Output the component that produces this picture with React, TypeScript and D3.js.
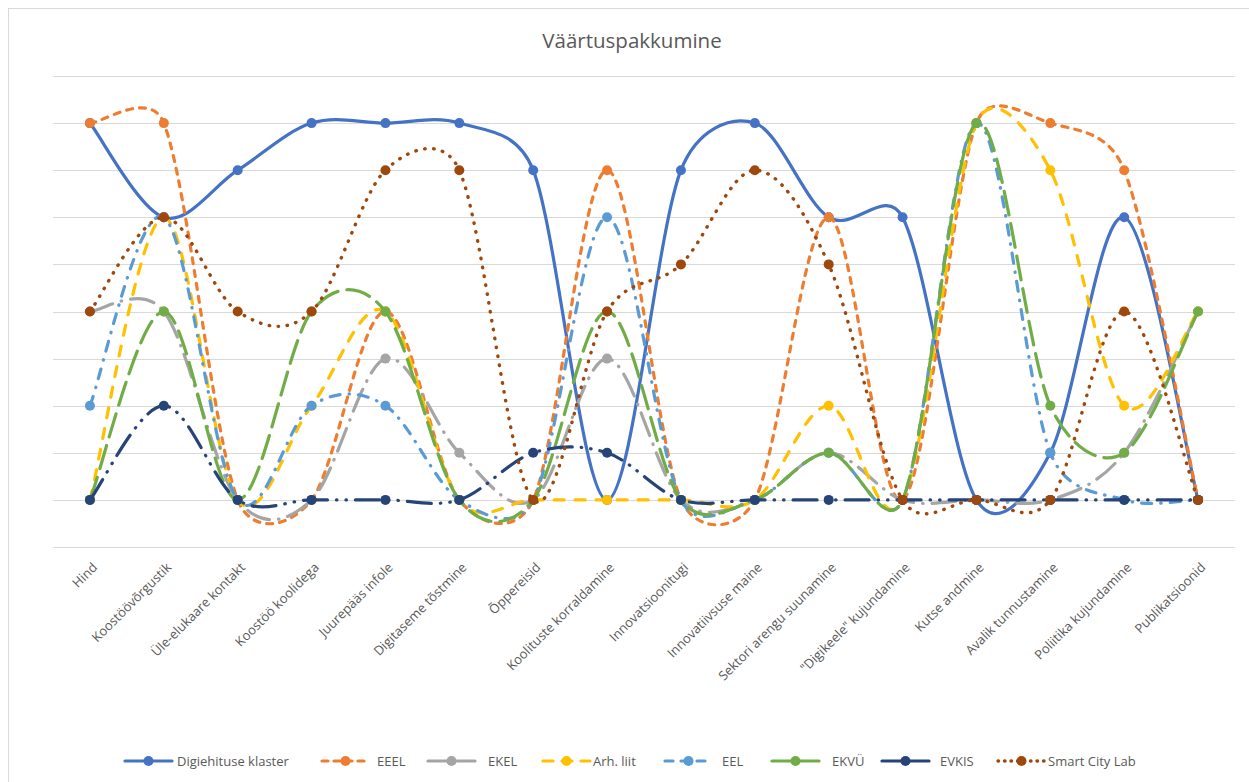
import { useEffect, useRef } from "react";
import * as d3 from "d3";

// categories on x axis
const categories = [
  "Hind",
  "Koostöövõrgustik",
  "Üle-elukaare kontakt",
  "Koostöö koolidega",
  "Juurepääs infole",
  "Digitaseme tõstmine",
  "Õppereisid",
  "Koolituste korraldamine",
  "Innovatsioonitugi",
  "Innovatiivsuse maine",
  "Sektori arengu suunamine",
  "\"Digikeele\" kujundamine",
  "Kutse andmine",
  "Avalik tunnustamine",
  "Poliitika kujundamine",
  "Publikatsioonid",
];

// series values
const digiehituse = [8, 6, 7, 8, 8, 8, 7, 0, 7, 8, 6, 6, 0, 1, 6, 0];
const eeel = [8, 8, 0, 0, 4, 0, 0, 7, 0, 0, 6, 0, 8, 8, 7, 0];
const ekel = [4, 4, 0, 0, 3, 1, 0, 3, 0, 0, 1, 0, 0, 0, 1, 4];
const arhLiit = [0, 6, 0, 2, 4, 0, 0, 0, 0, 0, 2, 0, 8, 7, 2, 4];
const eel = [2, 6, 0, 2, 2, 0, 0, 6, 0, 0, 1, 0, 8, 1, 0, 0];
const ekvu = [0, 4, 0, 4, 4, 0, 0, 4, 0, 0, 1, 0, 8, 2, 1, 4];
const evkis = [0, 2, 0, 0, 0, 0, 1, 1, 0, 0, 0, 0, 0, 0, 0, 0];
const smartCity = [4, 6, 4, 4, 7, 7, 0, 4, 5, 7, 5, 0, 0, 0, 4, 0];

const seriesNames = ["Digiehituse klaster", "EEEL", "EKEL", "Arh. liit", "EEL", "EKVÜ", "EVKIS", "Smart City Lab"];
const seriesValues = [digiehituse, eeel, ekel, arhLiit, eel, ekvu, evkis, smartCity];
const gridTicks = [-1, 0, 1, 2, 3, 4, 5, 6, 7, 8, 9];

// styles
const colors = ["#4472C4", "#ED7D31", "#A5A5A5", "#FFC000", "#5B9BD5", "#70AD47", "#264478", "#9E480E"];
const dashes = ["none", "6 7", "24 9 0.5 9", "10 11", "10 9 0.5 9", "24 9", "24 9 0.5 9 0.5 9", "0.5 8.5"];
const legendDashes = ["none", "6 6", "none", "10 9", "8 8", "none", "none", "0.5 6"];
const legendLineX = [125, 322, 428, 543, 665, 772, 882, 998];
const legendTextX = [177, 377, 488, 593, 722, 832, 940, 1048];

const W = 1249;
const H = 782;
const FONT = "'Open Sans', sans-serif";

// excel style smoothing: bezier with 1/6 tangent arms, capped to half the segment
function smoothPath(pts: [number, number][]) {
  const p = d3.path();
  const n = pts.length;
  p.moveTo(pts[0][0], pts[0][1]);
  const arm = (i: number, seg: number) => {
    const prev = pts[Math.max(i - 1, 0)];
    const next = pts[Math.min(i + 1, n - 1)];
    const tx = next[0] - prev[0];
    const ty = next[1] - prev[1];
    const tl = Math.hypot(tx, ty);
    if (tl === 0) return [0, 0];
    const len = Math.min(tl / 6, seg / 2);
    return [(tx / tl) * len, (ty / tl) * len];
  };
  for (let i = 0; i < n - 1; i++) {
    const a = pts[i];
    const b = pts[i + 1];
    const seg = Math.hypot(b[0] - a[0], b[1] - a[1]);
    const c1 = arm(i, seg);
    const c2 = arm(i + 1, seg);
    p.bezierCurveTo(a[0] + c1[0], a[1] + c1[1], b[0] - c2[0], b[1] - c2[1], b[0], b[1]);
  }
  return p.toString();
}

export default function App() {
  const ref = useRef<SVGSVGElement>(null);

  useEffect(() => {
    document.body.style.margin = "0";
    const svg = d3.select(ref.current);
    svg.selectAll("*").remove();

    const x = d3.scalePoint().domain(categories).range([53, 1235]).padding(0.5);
    const y = d3.scaleLinear().domain([-1, 9]).range([547, 76]);

    svg.append("rect").attr("width", W).attr("height", H).attr("fill", "#fff");
    // chart frame
    svg.append("rect")
      .attr("x", 8.5).attr("y", 8.5)
      .attr("width", W + 20).attr("height", H + 20)
      .attr("fill", "none").attr("stroke", "#D9D9D9");

    svg.append("text")
      .attr("x", 632).attr("y", 48)
      .attr("text-anchor", "middle")
      .attr("font-family", FONT).attr("font-size", 20.5)
      .attr("fill", "#595959")
      .text("Väärtuspakkumine");

    // gridlines
    svg.append("g")
      .selectAll("line")
      .data(gridTicks)
      .enter().append("line")
      .attr("x1", 53).attr("x2", 1235)
      .attr("y1", (d) => Math.round(y(d)) + 0.5)
      .attr("y2", (d) => Math.round(y(d)) + 0.5)
      .attr("stroke", "#D9D9D9").attr("stroke-width", 1);

    // category labels
    svg.append("g")
      .selectAll("text")
      .data(categories)
      .enter().append("text")
      .attr("transform", (d) => `translate(${(x(d) as number) + 5},${565}) rotate(-45)`)
      .attr("text-anchor", "end")
      .attr("dy", "0.35em")
      .attr("font-family", FONT).attr("font-size", 13)
      .attr("fill", "#595959")
      .text((d) => d);

    // series
    seriesValues.forEach((vals, s) => {
      const pts = vals.map((v, i) => [x(categories[i]) as number, y(v)] as [number, number]);
      const g = svg.append("g");
      g.append("path")
        .attr("d", smoothPath(pts))
        .attr("fill", "none")
        .attr("stroke", colors[s])
        .attr("stroke-width", s === 7 ? 3.4 : 3.2)
        .attr("stroke-linecap", "round")
        .attr("stroke-dasharray", dashes[s]);
      g.selectAll("circle")
        .data(pts)
        .enter().append("circle")
        .attr("cx", (d) => d[0]).attr("cy", (d) => d[1])
        .attr("r", 5)
        .attr("fill", colors[s]);
    });

    // legend
    const lg = svg.append("g");
    seriesNames.forEach((name, s) => {
      const ly = 761;
      lg.append("line")
        .attr("x1", legendLineX[s]).attr("x2", legendLineX[s] + 47)
        .attr("y1", ly).attr("y2", ly)
        .attr("stroke", colors[s])
        .attr("stroke-width", s === 7 ? 3.4 : 3.2)
        .attr("stroke-linecap", "round")
        .attr("stroke-dasharray", legendDashes[s]);
      lg.append("circle")
        .attr("cx", legendLineX[s] + 23.5).attr("cy", ly)
        .attr("r", 5).attr("fill", colors[s]);
      lg.append("text")
        .attr("x", legendTextX[s]).attr("y", ly)
        .attr("dy", "0.35em")
        .attr("font-family", FONT).attr("font-size", 13)
        .attr("fill", "#595959")
        .text(name);
    });
  }, []);

  return <svg ref={ref} width={W} height={H} style={{ display: "block" }}></svg>;
}
